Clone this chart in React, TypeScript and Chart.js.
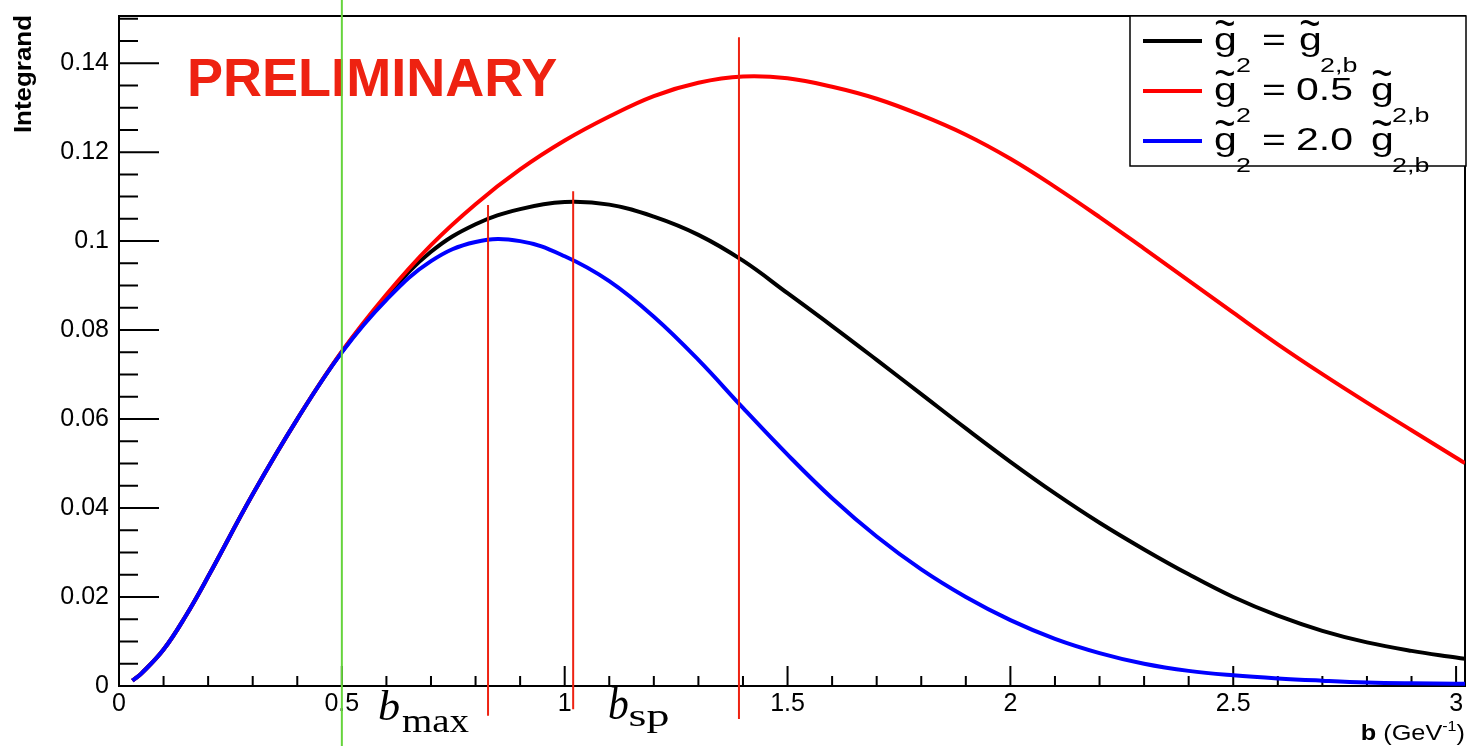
import React, { useEffect, useRef } from 'react';
import { Chart, registerables } from 'chart.js';

Chart.register(...registerables);

// Impact parameter grid b (GeV^-1)
const bGrid = [0.03, 0.05, 0.1, 0.15, 0.2, 0.3, 0.4, 0.5, 0.6, 0.7, 0.8, 0.9, 1.0, 1.1, 1.2, 1.3, 1.4, 1.5, 1.6, 1.7, 1.8, 1.9, 2.0, 2.1, 2.2, 2.3, 2.4, 2.5, 2.6, 2.7, 2.8, 2.9, 3.0, 3.02];

// Integrand for g2 = g2,b
const integrandNominal = [0.0012, 0.0028, 0.0082, 0.0158, 0.0246, 0.0431, 0.06, 0.0751, 0.0875, 0.0976, 0.1038, 0.1072, 0.1088, 0.1082, 0.1055, 0.1014, 0.0956, 0.0883, 0.0809, 0.0733, 0.0656, 0.0579, 0.0504, 0.0433, 0.0367, 0.0307, 0.0251, 0.02, 0.0158, 0.0124, 0.0098, 0.0079, 0.0064, 0.0061];

// Integrand for g2 = 0.5 g2,b
const integrandHalf = [0.0012, 0.0028, 0.0082, 0.0158, 0.0246, 0.0431, 0.06, 0.0752, 0.088, 0.0991, 0.1083, 0.1161, 0.1226, 0.128, 0.1326, 0.1356, 0.137, 0.1366, 0.1347, 0.132, 0.1283, 0.1239, 0.1185, 0.1122, 0.1054, 0.0983, 0.0911, 0.0839, 0.0768, 0.0701, 0.0637, 0.0575, 0.0513, 0.0501];

// Integrand for g2 = 2.0 g2,b
const integrandDouble = [0.0012, 0.0028, 0.0082, 0.0158, 0.0246, 0.0431, 0.06, 0.075, 0.0868, 0.0955, 0.0998, 0.1, 0.0966, 0.091, 0.083, 0.0733, 0.0625, 0.052, 0.0422, 0.0336, 0.0262, 0.02, 0.0148, 0.0106, 0.0074, 0.005, 0.0034, 0.0024, 0.0017, 0.0012, 0.0008, 0.0006, 0.0005, 0.0005];

// Vertical marker lines (peak positions) with their vertical extents
const markerB = [0.828, 1.019, 1.391];
const markerTop = [0.1081, 0.1112, 0.1458];
const markerBottom = [-0.0067, -0.0052, -0.0074];

// Reference line at b = 0.5
const referenceB = 0.5;

const X_MIN = 0;
const X_MAX = 3.02;
const Y_MIN = 0;
const Y_MAX = 0.1506;

const SANS = '"Liberation Sans", Arial, Helvetica, sans-serif';
const SERIF = '"Liberation Serif", "Times New Roman", serif';
const MARK_RED = '#ee2211';

const pts = (ys: number[]) => bGrid.map((b, i) => ({ x: b, y: ys[i] }));

// Text drawn with a horizontal stretch factor
function stretched(ctx: CanvasRenderingContext2D, text: string, x: number, y: number, font: string, sx: number) {
  ctx.save();
  ctx.font = font;
  ctx.translate(x, y);
  ctx.scale(sx, 1);
  ctx.fillText(text, 0, 0);
  ctx.restore();
}

// Text whose ink box starts at x and spans the given width
function fitInk(ctx: CanvasRenderingContext2D, text: string, x: number, y: number, font: string, width: number) {
  ctx.save();
  ctx.font = font;
  const m = ctx.measureText(text);
  const ink = m.actualBoundingBoxRight + m.actualBoundingBoxLeft;
  const sx = width / ink;
  ctx.translate(x, y);
  ctx.scale(sx, 1);
  ctx.fillText(text, m.actualBoundingBoxLeft, 0);
  ctx.restore();
}

// Tilde accent whose ink box is centred vertically on cy
function tildeAt(ctx: CanvasRenderingContext2D, x: number, cy: number, width: number) {
  const font = `44px ${SANS}`;
  ctx.font = font;
  const m = ctx.measureText('~');
  const mid = (m.actualBoundingBoxAscent - m.actualBoundingBoxDescent) / 2;
  fitInk(ctx, '~', x, cy + mid, font, width);
}

const LSX = 1.28;

// "g" with a tilde on top
function tildeG(ctx: CanvasRenderingContext2D, x: number, base: number) {
  stretched(ctx, 'g', x, base, `32px ${SANS}`, LSX);
  tildeAt(ctx, x + 1, base - 27, 19);
}

function legendRow(ctx: CanvasRenderingContext2D, base: number, coeff: string | null) {
  tildeG(ctx, 1214, base);
  stretched(ctx, '2', 1236, base + 22, `21px ${SANS}`, LSX);
  stretched(ctx, '=', 1262, base, `32px ${SANS}`, LSX);
  let gx = 1299;
  if (coeff) {
    stretched(ctx, coeff, 1296, base, `32px ${SANS}`, LSX);
    gx = 1371;
  }
  tildeG(ctx, gx, base);
  stretched(ctx, '2,b', gx + 21, base + 22, `21px ${SANS}`, LSX);
}

const rootStyle = {
  id: 'rootStyle',
  beforeDatasetsDraw(chart: any) {
    const { ctx, chartArea: a, scales } = chart;
    const x = scales.x;
    const y = scales.y;
    ctx.save();
    ctx.fillStyle = MARK_RED;
    ctx.textBaseline = 'alphabetic';
    ctx.textAlign = 'left';
    fitInk(ctx, 'PRELIMINARY', 190, 96, `bold 53px ${SANS}`, 367);

    ctx.strokeStyle = '#000';
    ctx.lineWidth = 2;
    ctx.beginPath();
    for (let i = 0; i <= 30; i++) {
      const px = x.getPixelForValue(i / 10);
      const len = i % 5 === 0 ? 20 : 10;
      ctx.moveTo(px, a.bottom);
      ctx.lineTo(px, a.bottom - len);
    }
    for (let i = 0; i <= 30; i++) {
      const py = y.getPixelForValue(i * 0.005);
      const len = i % 4 === 0 ? 40 : 19;
      ctx.moveTo(a.left, py);
      ctx.lineTo(a.left + len, py);
    }
    ctx.stroke();
    ctx.strokeRect(a.left, a.top, a.right - a.left, a.bottom - a.top);
    ctx.restore();
  },
  afterDraw(chart: any) {
    const { ctx } = chart;
    ctx.save();
    ctx.fillStyle = '#000';
    ctx.textBaseline = 'alphabetic';
    ctx.textAlign = 'left';

    // y-axis title
    ctx.save();
    ctx.translate(31, 15);
    ctx.rotate(-Math.PI / 2);
    ctx.scale(1.08, 1);
    ctx.textAlign = 'right';
    ctx.font = `bold 24px ${SANS}`;
    ctx.fillText('Integrand', 0, 0);
    ctx.restore();

    // x-axis title: b (GeV^-1), right aligned
    const sx = 1.15;
    const parts = [
      { t: 'b', f: `bold 22px ${SANS}`, dy: 0 },
      { t: ' (GeV', f: `22px ${SANS}`, dy: 0 },
      { t: '-1', f: `14px ${SANS}`, dy: -9 },
      { t: ')', f: `22px ${SANS}`, dy: 0 },
    ];
    let total = 0;
    for (const p of parts) {
      ctx.font = p.f;
      total += ctx.measureText(p.t).width * sx;
    }
    let cx = 1465 - total;
    for (const p of parts) {
      stretched(ctx, p.t, cx, 740 + p.dy, p.f, sx);
      ctx.font = p.f;
      cx += ctx.measureText(p.t).width * sx;
    }

    // b_max and b_sp labels
    fitInk(ctx, 'b', 379, 720, `italic 42px ${SERIF}`, 20);
    fitInk(ctx, 'max', 402, 732, `34px ${SERIF}`, 67);
    fitInk(ctx, 'b', 609, 719, `italic 46px ${SERIF}`, 19);
    fitInk(ctx, 'sp', 630, 726, `32px ${SERIF}`, 38);

    // legend
    ctx.fillStyle = '#fff';
    ctx.fillRect(1130, 16, 337, 150);
    ctx.strokeStyle = '#000';
    ctx.lineWidth = 1.5;
    ctx.strokeRect(1130, 16, 336, 150);
    const colors = ['#000000', '#ff0000', '#0000ff'];
    const bases = [50, 100, 150];
    ctx.lineWidth = 4;
    colors.forEach((c, i) => {
      ctx.strokeStyle = c;
      ctx.beginPath();
      ctx.moveTo(1143, bases[i] - 9);
      ctx.lineTo(1202, bases[i] - 9);
      ctx.stroke();
    });
    ctx.fillStyle = '#000';
    legendRow(ctx, 50, null);
    legendRow(ctx, 100, '0.5');
    legendRow(ctx, 150, '2.0');
    ctx.restore();
  },
};

export default function App() {
  const ref = useRef<HTMLCanvasElement>(null);

  useEffect(() => {
    if (!ref.current) return;
    const curve = (data: number[], color: string, order: number) => ({
      data: pts(data),
      borderColor: color,
      borderWidth: 4,
      pointRadius: 0,
      fill: false,
      tension: 0.4,
      order,
    });
    const vline = (b: number, lo: number, hi: number, color: string, order: number) => ({
      data: [{ x: b, y: lo }, { x: b, y: hi }],
      borderColor: color,
      borderWidth: 2,
      pointRadius: 0,
      fill: false,
      tension: 0,
      clip: false as const,
      order,
    });
    const datasets: any[] = [
      curve(integrandNominal, '#000000', 4),
      curve(integrandHalf, '#ff0000', 3),
      curve(integrandDouble, '#0000ff', 2),
      ...markerB.map((b, i) => vline(b, markerBottom[i], markerTop[i], MARK_RED, 1)),
      vline(referenceB, -0.03, 0.17, '#66d43c', 0),
    ];
    const chart = new Chart(ref.current, {
      type: 'line',
      data: { datasets },
      plugins: [rootStyle],
      options: {
        animation: false,
        responsive: false,
        devicePixelRatio: 1,
        layout: { padding: { left: 0, top: 16, right: 3, bottom: 0 } },
        plugins: { legend: { display: false }, tooltip: { enabled: false } },
        scales: {
          x: {
            type: 'linear',
            min: X_MIN,
            max: X_MAX,
            grid: { display: false, drawTicks: false },
            border: { display: false },
            afterFit: (s: any) => {
              s.height = 60;
              s.paddingLeft = 0;
              s.paddingRight = 0;
            },
            ticks: {
              stepSize: 0.5,
              includeBounds: false,
              autoSkip: false,
              maxRotation: 0,
              padding: 3,
              color: '#000',
              font: { family: SANS, size: 25 },
              callback: (v: any) => String(parseFloat(Number(v).toFixed(3))),
            },
          },
          y: {
            type: 'linear',
            min: Y_MIN,
            max: Y_MAX,
            grid: { display: false, drawTicks: false },
            border: { display: false },
            afterFit: (s: any) => {
              s.width = 119;
              s.paddingTop = 0;
              s.paddingBottom = 0;
            },
            ticks: {
              stepSize: 0.02,
              includeBounds: false,
              autoSkip: false,
              padding: 10,
              color: '#000',
              font: { family: SANS, size: 25 },
              callback: (v: any) => String(parseFloat(Number(v).toFixed(4))),
            },
          },
        },
      },
    });
    return () => chart.destroy();
  }, []);

  return (
    <div style={{ position: 'fixed', left: 0, top: 0, width: 1468, height: 746, background: '#fff' }}>
      <canvas ref={ref} width={1468} height={746} style={{ display: 'block' }} />
    </div>
  );
}
